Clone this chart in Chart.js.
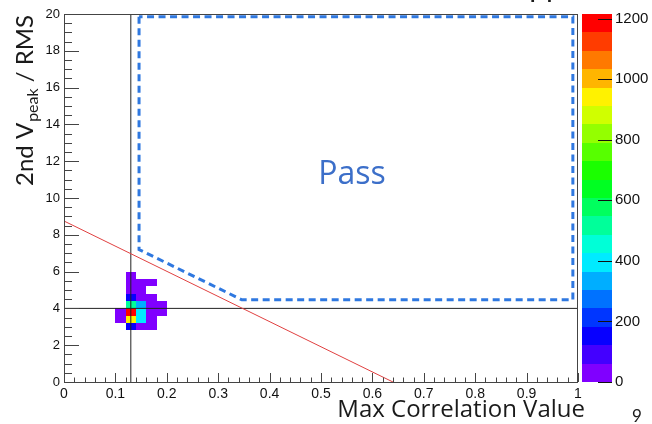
<!DOCTYPE html>
<html>
<head>
<meta charset="utf-8">
<script src="https://cdn.jsdelivr.net/npm/chart.js@4.4.1/dist/chart.umd.min.js"></script>
<style>
  html, body { margin: 0; padding: 0; background: #fff; }
</style>
</head>
<body>
<canvas id="cutChart" width="652" height="424"></canvas>
<script>
// 2D histogram: lower bin edges and counts
const binW = 0.02;
const binH = 0.4;
const cellX = [0.12, 0.12, 0.14, 0.16, 0.12, 0.14, 0.12, 0.14, 0.16, 0.12, 0.14, 0.16, 0.18,
               0.10, 0.12, 0.14, 0.16, 0.18, 0.10, 0.12, 0.14, 0.16, 0.12, 0.14, 0.16];
const cellY = [5.6, 5.2, 5.2, 5.2, 4.8, 4.8, 4.4, 4.4, 4.4, 4.0, 4.0, 4.0, 4.0,
               3.6, 3.6, 3.6, 3.6, 3.6, 3.2, 3.2, 3.2, 3.2, 2.8, 2.8, 2.8];
const cellCount = [30, 40, 25, 15, 45, 20, 150, 35, 20, 520, 310, 40, 15,
                   30, 1215, 400, 45, 20, 25, 930, 420, 30, 140, 30, 15];

// colour axis
const zMax = 1215;
const nContours = 20;
const zTicks = [0, 200, 400, 600, 800, 1000, 1200];

// cut lines
const cutX = [0.13, 0.13];
const cutXy = [0, 20];
const cutYx = [0, 1];
const cutY = [4, 4];
const redX = [0, 0.64];
const redY = [8.75, 0];
const passX = [0.146, 0.146, 0.346, 0.99, 0.99, 0.146];
const passY = [19.85, 7.2, 4.47, 4.47, 19.85, 19.85];

function pts(xs, ys) {
  return xs.map((x, i) => ({ x: x, y: ys[i] }));
}

function bandColor(i) {
  return 'hsl(' + (270 - 270 * i / (nContours - 1)) + ',100%,50%)';
}

function zColor(v) {
  let i = Math.floor(v / zMax * nContours);
  if (i > nContours - 1) i = nContours - 1;
  return bandColor(i);
}

const histPlugin = {
  id: 'hist2d',
  beforeDatasetsDraw(chart) {
    const ctx = chart.ctx;
    const x = chart.scales.x, y = chart.scales.y;
    ctx.save();
    cellX.forEach((cx, i) => {
      const x0 = Math.round(x.getPixelForValue(cx));
      const x1 = Math.round(x.getPixelForValue(cx + binW));
      const y0 = Math.round(y.getPixelForValue(cellY[i]));
      const y1 = Math.round(y.getPixelForValue(cellY[i] + binH));
      ctx.fillStyle = zColor(cellCount[i]);
      ctx.fillRect(x0, y1, x1 - x0, y0 - y1);
    });
    ctx.restore();
  }
};

const frameTicksPlugin = {
  id: 'frameTicks',
  afterDatasetsDraw(chart) {
    const ctx = chart.ctx;
    const a = chart.chartArea;
    const x = chart.scales.x, y = chart.scales.y;
    ctx.save();
    ctx.strokeStyle = '#444';
    ctx.lineWidth = 1;
    ctx.strokeRect(a.left + 0.5, a.top + 0.5, a.right - a.left - 1, a.bottom - a.top);
    ctx.beginPath();
    for (let i = 0; i <= 50; i++) {
      const px = Math.round(x.getPixelForValue(i * 0.02)) + 0.5;
      const len = i % 5 === 0 ? 9 : 4.5;
      ctx.moveTo(px, a.bottom);
      ctx.lineTo(px, a.bottom - len);
    }
    for (let i = 0; i <= 40; i++) {
      const py = Math.round(y.getPixelForValue(i * 0.5)) + 0.5;
      const len = i % 4 === 0 ? 15 : 8;
      ctx.moveTo(a.left, py);
      ctx.lineTo(a.left + len, py);
    }
    ctx.stroke();
    ctx.restore();
  }
};

const colorBarPlugin = {
  id: 'colorBar',
  afterDraw(chart) {
    const ctx = chart.ctx;
    const z = chart.scales.z;
    const left = chart.chartArea.right + 4;
    const w = 30;
    ctx.save();
    for (let i = 0; i < nContours; i++) {
      const yTop = Math.round(z.getPixelForValue((i + 1) * zMax / nContours));
      const yBot = Math.round(z.getPixelForValue(i * zMax / nContours));
      ctx.fillStyle = bandColor(i);
      ctx.fillRect(left, yTop, w, yBot - yTop);
    }
    ctx.strokeStyle = '#111';
    ctx.lineWidth = 1;
    ctx.beginPath();
    zTicks.forEach(v => {
      const py = Math.round(z.getPixelForValue(v)) + 0.5;
      ctx.moveTo(left + w, py);
      ctx.lineTo(left + w - 14, py);
    });
    ctx.stroke();
    ctx.restore();
  }
};

const textPlugin = {
  id: 'texts',
  afterDraw(chart) {
    const ctx = chart.ctx;
    ctx.save();
    ctx.textAlign = 'left';
    ctx.textBaseline = 'alphabetic';
    // y title with subscript
    ctx.fillStyle = '#1a1a1a';
    ctx.translate(33, 186);
    ctx.rotate(-Math.PI / 2);
    ctx.font = '24px Lato';
    ctx.fillText('2nd V', 0, 0);
    let w = ctx.measureText('2nd V').width + 1;
    ctx.font = '16px Lato';
    ctx.fillText('peak', w, 5);
    w += ctx.measureText('peak').width;
    ctx.font = '24px Lato';
    ctx.fillText(' / RMS', w, 0);
    ctx.restore();

    ctx.save();
    ctx.fillStyle = '#1a1a1a';
    ctx.font = '24px "Open Sans"';
    ctx.textAlign = 'right';
    ctx.fillText('Max Correlation Value', 585, 417);
    ctx.font = '17px Lato';
    ctx.textAlign = 'center';
    ctx.fillText('9', 637, 422);
    ctx.font = '30px Lato';
    ctx.fillText('pp', 546, -3);
    ctx.fillStyle = '#3c6fc9';
    ctx.font = '32px "Open Sans"';
    ctx.fillText('Pass', 352, 184);
    ctx.restore();
  }
};

Chart.defaults.font.family = '"Liberation Sans", Arial, sans-serif';
Chart.defaults.color = '#111';

const config = {
  type: 'scatter',
  data: {
    datasets: [{
      label: 'pass',
      data: pts(passX, passY),
      showLine: true,
      borderColor: '#2f78e0',
      borderWidth: 3,
      borderDash: [7, 4.5],
      pointRadius: 0
    }, {
      label: 'red',
      data: pts(redX, redY),
      showLine: true,
      borderColor: '#e04040',
      borderWidth: 1,
      pointRadius: 0
    }, {
      label: 'cutX',
      data: pts(cutX, cutXy),
      showLine: true,
      borderColor: '#222',
      borderWidth: 1,
      pointRadius: 0
    }, {
      label: 'cutY',
      data: pts(cutYx, cutY),
      showLine: true,
      borderColor: '#222',
      borderWidth: 1,
      pointRadius: 0
    }]
  },
  options: {
    responsive: false,
    animation: false,
    layout: { padding: { top: 14, left: 0, right: 0, bottom: 0 } },
    plugins: {
      legend: { display: false },
      tooltip: { enabled: false }
    },
    scales: {
      x: {
        type: 'linear',
        min: 0,
        max: 1,
        grid: { display: false, drawTicks: false },
        border: { display: false },
        ticks: {
          stepSize: 0.1,
          autoSkip: false,
          maxRotation: 0,
          padding: 4,
          font: { size: 14 },
          callback: v => Number(v.toFixed(1)).toString()
        },
        afterFit: s => { s.height = 42; }
      },
      y: {
        type: 'linear',
        min: 0,
        max: 20,
        grid: { display: false, drawTicks: false },
        border: { display: false },
        ticks: { stepSize: 2, padding: 4, font: { size: 13 } },
        afterFit: s => { s.width = 64; }
      },
      z: {
        type: 'linear',
        position: 'right',
        min: 0,
        max: zMax,
        grid: {
          display: true,
          drawOnChartArea: false,
          drawTicks: true,
          tickLength: 34,
          tickColor: 'rgba(0,0,0,0)'
        },
        border: { display: false },
        ticks: {
          padding: 3,
          font: { size: 15 },
          callback: v => String(v)
        },
        afterBuildTicks: s => { s.ticks = zTicks.map(v => ({ value: v })); },
        afterFit: s => { s.width = 74; }
      }
    }
  },
  plugins: [histPlugin, frameTicksPlugin, colorBarPlugin, textPlugin]
};

window.onload = function () {
  const ctx = document.getElementById('cutChart').getContext('2d');
  new Chart(ctx, config);
};
</script>
</body>
</html>
